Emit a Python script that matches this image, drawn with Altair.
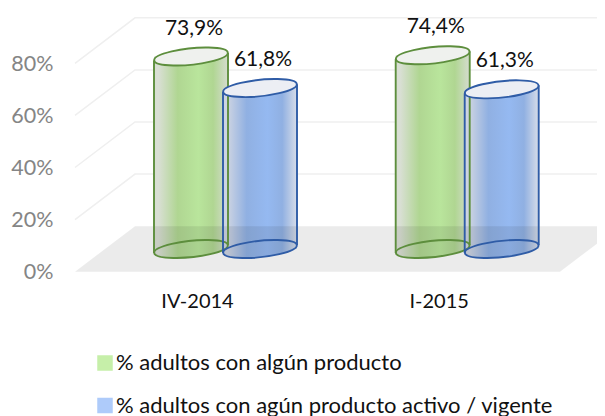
import altair as alt
import pandas as pd

# ---- values ----
categories = ["IV-2014", "I-2015"]
series_names = ["% adultos con algún producto", "% adultos con agún producto activo / vigente"]
algun = [73.9, 74.4]
activo = [61.8, 61.3]
y_ticks = [0, 20, 40, 60, 80]

# ---- layout constants (chart area is 589 x 408 px) ----
W, H = 589, 408
PX_X = 241.7                    # pixels per category
PX_Y = 2.605                    # pixels per percentage point
X0, Y0 = 217.5, 263.7           # pixel of category 0 and of 0 %
OFF = 34.5 / PX_X               # half distance between the two cylinders
HALF = 37 / PX_X                # cylinder radius
DEPTH_Y = 45.5 / PX_Y           # floor depth in y units
BASE = 8.7                      # y of the cylinder bases
TILT = 3.9 / PX_Y               # ellipse tip offset
FLOOR_L = (67 - X0) / PX_X      # front-left corner of the floor
FLOOR_SKEW = 60 / PX_X
FLOOR_R = (552 - X0) / PX_X     # front-right corner of the floor
X_END = (W + 30 - X0) / PX_X

xs = alt.Scale(domain=[-X0 / PX_X, (W - X0) / PX_X], range=[0, W], nice=False, zero=False)
ys = alt.Scale(domain=[-(H - Y0) / PX_Y, Y0 / PX_Y], range=[H, 0], nice=False, zero=False)

rows = []
for i, c in enumerate(categories):
    for s, vals, sign in ((series_names[0], algun, -1), (series_names[1], activo, 1)):
        v = vals[i]
        cx = i + sign * OFF
        rows.append(dict(cat=c, series=s, value=v, cx=cx, l=cx - HALF, r=cx + HALF,
                         base=BASE, top=BASE + v, label=f"{v:.1f}%".replace(".", ","),
                         under=BASE + v - TILT))
cyl = pd.DataFrame(rows)
g = cyl[cyl.series == series_names[0]]
b = cyl[cyl.series == series_names[1]]

grid_rows = []
for v in y_ticks[1:]:
    grid_rows += [dict(level=v, k=0, x=FLOOR_L, y=v),
                  dict(level=v, k=1, x=FLOOR_L + FLOOR_SKEW, y=v + DEPTH_Y),
                  dict(level=v, k=2, x=X_END, y=v + DEPTH_Y)]
grid = pd.DataFrame(grid_rows)
floor = pd.DataFrame([
    dict(x=FLOOR_L, y=0, y2=0),
    dict(x=FLOOR_L + FLOOR_SKEW, y=0, y2=DEPTH_Y),
    dict(x=FLOOR_R, y=0, y2=DEPTH_Y),
    dict(x=FLOOR_R + FLOOR_SKEW, y=DEPTH_Y, y2=DEPTH_Y),
])

ELL = ("M-0.9945,0.1045A1,0.22,-6,1,1,0.9945,-0.1045"
       "A1,0.22,-6,1,1,-0.9945,0.1045Z")
SIZE = 74 ** 2


def grad(edge_l, mid1, mid2, edge_r):
    return alt.LinearGradient(gradient="linear", x1=0, x2=1, y1=0, y2=0, stops=[
        alt.GradientStop(color=edge_l, offset=0),
        alt.GradientStop(color=edge_l, offset=0.06),
        alt.GradientStop(color=mid1, offset=0.32),
        alt.GradientStop(color=mid2, offset=0.6),
        alt.GradientStop(color=mid1, offset=0.8),
        alt.GradientStop(color=edge_r, offset=1),
    ])


G_FILL = grad("#d9dfd4", "#b0d692", "#b9e59c", "#d6dcd0")
B_FILL = grad("#cdd4e2", "#90b0e2", "#95b9f1", "#d7dde9")
G_LINE, B_LINE = "#5d8e3d", "#2f5ca6"
SW = 1.9

label_expr = " : ".join(f"datum.value == {i} ? '{c}'" for i, c in enumerate(categories)) + " : ''"

X_AXIS = alt.Axis(
    values=list(range(len(categories))), labelExpr=label_expr, title=None, grid=False, domain=False,
    ticks=False, labelFont="Lato", labelFontSize=20, labelColor="#111111", labelOffset=-28.5,
    labelPadding=0, offset=-125, labelBaseline="top", labelFlush=False, labelOverlap=False)
Y_AXIS = alt.Axis(
    values=y_ticks, labelExpr="datum.value + '%'", title=None, grid=False, domain=False,
    ticks=False, labelFont="Lato", labelFontSize=21.5, labelColor="#858585", labelPadding=0,
    offset=-45, labelOffset=1, labelFlush=False, labelOverlap=False)


def X(f):
    return alt.X(f, type="quantitative", scale=xs, axis=X_AXIS)


def Y(f):
    return alt.Y(f, type="quantitative", scale=ys, axis=Y_AXIS)


def body(df, fill):
    return [
        alt.Chart(df).mark_point(filled=True, shape=ELL, size=SIZE, fill=fill, opacity=1)
        .encode(x=X("cx"), y=Y("base")),
        alt.Chart(df).mark_point(filled=True, shape=ELL, size=SIZE, fill=fill, opacity=1)
        .encode(x=X("cx"), y=Y("under")),
        alt.Chart(df).mark_bar(fill=fill, opacity=1).encode(x=X("l"), x2="r", y=Y("base"), y2="top"),
    ]


def lines(df, color):
    d = df.assign(lb=df.base - TILT, lt=df.top - TILT, rb=df.base + TILT, rt=df.top + TILT)
    return [
        alt.Chart(d).mark_rule(color=color, strokeWidth=SW).encode(x=X("l"), y=Y("lb"), y2="lt"),
        alt.Chart(d).mark_rule(color=color, strokeWidth=SW).encode(x=X("r"), y=Y("rb"), y2="rt"),
        alt.Chart(d).mark_point(filled=False, shape=ELL, size=SIZE, stroke=color, strokeWidth=SW, opacity=1)
        .encode(x=X("cx"), y=Y("base")),
    ]


def top(df, color, fill):
    return alt.Chart(df).mark_point(filled=True, shape=ELL, size=SIZE, fill=fill, stroke=color,
                                    strokeWidth=SW, opacity=1).encode(x=X("cx"), y=Y("top"))


legend_layer = alt.Chart(cyl).mark_point(filled=True, opacity=0, size=1).encode(
    x=X("cx"), y=Y("top"),
    color=alt.Color("series:N", scale=alt.Scale(domain=series_names, range=["#c6efa9", "#aecbfa"]),
                    legend=alt.Legend(orient="none", legendX=86, legendY=344, title=None,
                                      symbolType="square", symbolSize=240, symbolOpacity=1,
                                      symbolStrokeWidth=1, labelFont="Lato", labelFontSize=22,
                                      labelColor="#111111", labelOffset=0, rowPadding=20.5,
                                      labelLimit=520)),
)

grid_layer = alt.Chart(grid).mark_line(color="#efefef", strokeWidth=1.5).encode(
    x=X("x"), y=Y("y"), detail="level:N", order="k:Q")

floor_layer = alt.Chart(floor).mark_area(color="#000000", opacity=0.08, line=False).encode(
    x=X("x"), y=Y("y"), y2="y2")

text_layer = alt.Chart(cyl).mark_text(font="Lato", fontSize=21, color="#111111", dx=3, dy=-28).encode(
    x=X("cx"), y=Y("top"), text="label:N")

layers = ([grid_layer] + body(g, G_FILL) + body(b, B_FILL) + [floor_layer]
          + lines(g, G_LINE) + lines(b, B_LINE)
          + [top(g, G_LINE, "#eff1ee"), top(b, B_LINE, "#eceef4"), text_layer, legend_layer])

chart = alt.layer(*layers).properties(
    width=W, height=H, padding=0, autosize=alt.AutoSizeParams(type="none"), background="white"
).configure_view(stroke=None)

chart.save("out.html", embed_options={"renderer": "svg", "actions": False})
